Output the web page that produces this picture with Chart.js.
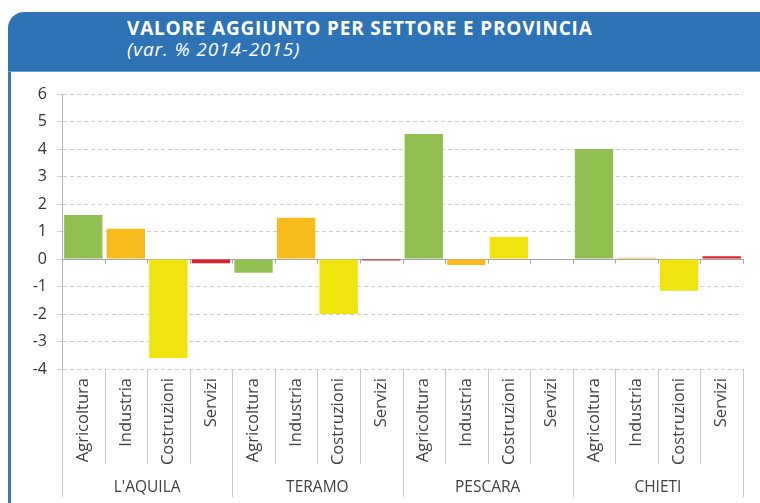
<!DOCTYPE html>
<html>
<head>
<meta charset="utf-8">
<script src="https://cdn.jsdelivr.net/npm/chart.js@4.4.0/dist/chart.umd.min.js"></script>
<style>
    html, body { margin: 0; padding: 0; background: #fff; }
    #page { position: relative; width: 760px; height: 503px; overflow: hidden; font-family: "Open Sans", sans-serif; }
    #header {
        position: absolute; left: 8px; top: 12px; width: 752px; height: 59px;
        background: #2e73b6; border-top-left-radius: 16px;
        border-bottom: 1px solid #6fa0d4;
    }
    #title { position: absolute; left: 119px; top: 3px; color: #fff; font-weight: 700; font-size: 19px; letter-spacing: 0.8px; }
    #subtitle { position: absolute; left: 119px; top: 24px; color: #fff; font-style: italic; font-size: 19px; letter-spacing: 0.9px; }
    #leftline { position: absolute; left: 8px; top: 40px; width: 3px; height: 470px; background: #3a78c0; }
    #chart { position: absolute; left: 0; top: 0; }
</style>
</head>
<body>
<div id="page">
    <div id="leftline"></div>
    <div id="header">
        <div id="title">VALORE AGGIUNTO PER SETTORE E PROVINCIA</div>
        <div id="subtitle">(var. % 2014-2015)</div>
    </div>
    <canvas id="chart" width="760" height="503"></canvas>
</div>
<script>
// Provinces and sectors
const provinces = ["L'AQUILA", "TERAMO", "PESCARA", "CHIETI"];
const sectors = ["Agricoltura", "Industria", "Costruzioni", "Servizi"];

// Values per sector, one per province (var. % 2014-2015)
const agricoltura = [1.6, -0.5, 4.55, 4.0];
const industria = [1.1, 1.5, -0.22, 0.05];
const costruzioni = [-3.6, -2.0, 0.8, -1.15];
const servizi = [-0.15, -0.05, 0.0, 0.1];

// Y axis ticks
const yTicks = [6, 5, 4, 3, 2, 1, 0, -1, -2, -3, -4];

const sectorColors = ['#92c050', '#f8bb1c', '#f1e30d', '#d7232b'];

// Build the flat category list and values
const sectorValues = [agricoltura, industria, costruzioni, servizi];
const labels = [];
const values = [];
const colors = [];
provinces.forEach((p, pi) => {
    sectors.forEach((s, si) => {
        labels.push(s);
        values.push(sectorValues[si][pi]);
        colors.push(sectorColors[si]);
    });
});

// Draw the separators under the category axis and the zero line
const separatorPlugin = {
    id: 'separators',
    afterDraw(chart) {
        const x = chart.scales.x;
        const y = chart.scales.y;
        const ctx = chart.ctx;
        const n = labels.length;
        const zero = Math.round(y.getPixelForValue(0)) + 0.5;
        ctx.save();
        ctx.lineWidth = 1;
        for (let k = 0; k <= n; k++) {
            let px;
            if (k === 0) px = x.left;
            else if (k === n) px = x.right;
            else px = (x.getPixelForValue(k - 1) + x.getPixelForValue(k)) / 2;
            px = Math.round(px) + 0.5;
            const isGroup = k % sectors.length === 0;
            ctx.strokeStyle = '#c8c8c8';
            ctx.beginPath();
            ctx.moveTo(px, y.bottom);
            ctx.lineTo(px, isGroup ? chart.height - 6 : x.bottom - 1);
            ctx.stroke();
            // small tick marks on the zero line
            ctx.strokeStyle = '#a6a6a6';
            ctx.beginPath();
            ctx.moveTo(px, zero);
            ctx.lineTo(px, zero + 4);
            ctx.stroke();
        }
        ctx.restore();
    }
};

new Chart(document.getElementById('chart'), {
    type: 'bar',
    data: {
        labels: labels,
        datasets: [{
            data: values,
            backgroundColor: colors,
            borderWidth: 0,
            barPercentage: 0.9,
            categoryPercentage: 1
        }]
    },
    options: {
        responsive: false,
        animation: false,
        layout: { padding: { top: 94, right: 17, left: 0, bottom: 0 } },
        plugins: {
            legend: { display: false },
            tooltip: { enabled: false }
        },
        scales: {
            x: {
                position: 'bottom',
                weight: 0,
                offset: true,
                grid: { display: false, drawTicks: false },
                border: { display: false },
                ticks: {
                    maxRotation: 90,
                    minRotation: 90,
                    autoSkip: false,
                    padding: 9,
                    color: '#404040',
                    font: { family: 'Open Sans', size: 16.5 }
                },
                afterFit: (scale) => { scale.height = 96; }
            },
            x2: {
                type: 'category',
                position: 'bottom',
                weight: 1,
                labels: provinces,
                offset: true,
                grid: { display: false, drawTicks: false },
                border: { display: false },
                ticks: {
                    padding: 13,
                    color: '#404040',
                    font: { family: 'Open Sans', size: 15.5 }
                },
                afterFit: (scale) => { scale.height = 38; }
            },
            y: {
                min: -4,
                max: 6,
                afterBuildTicks: (scale) => { scale.ticks = yTicks.map(v => ({ value: v })); },
                grid: {
                    color: (c) => (c.tick && c.tick.value === 0) ? '#a6a6a6' : '#cfcfcf',
                    tickColor: '#cfcfcf',
                    tickLength: 5,
                    lineWidth: 1
                },
                border: {
                    display: true,
                    color: '#b0b0b0',
                    dash: (c) => (c.tick && c.tick.value === 0) ? [] : [4, 3]
                },
                ticks: {
                    padding: 10,
                    color: '#333',
                    font: { family: 'Open Sans', size: 16 }
                },
                afterFit: (scale) => { scale.width = 62; }
            }
        }
    },
    plugins: [separatorPlugin]
});
</script>
</body>
</html>
